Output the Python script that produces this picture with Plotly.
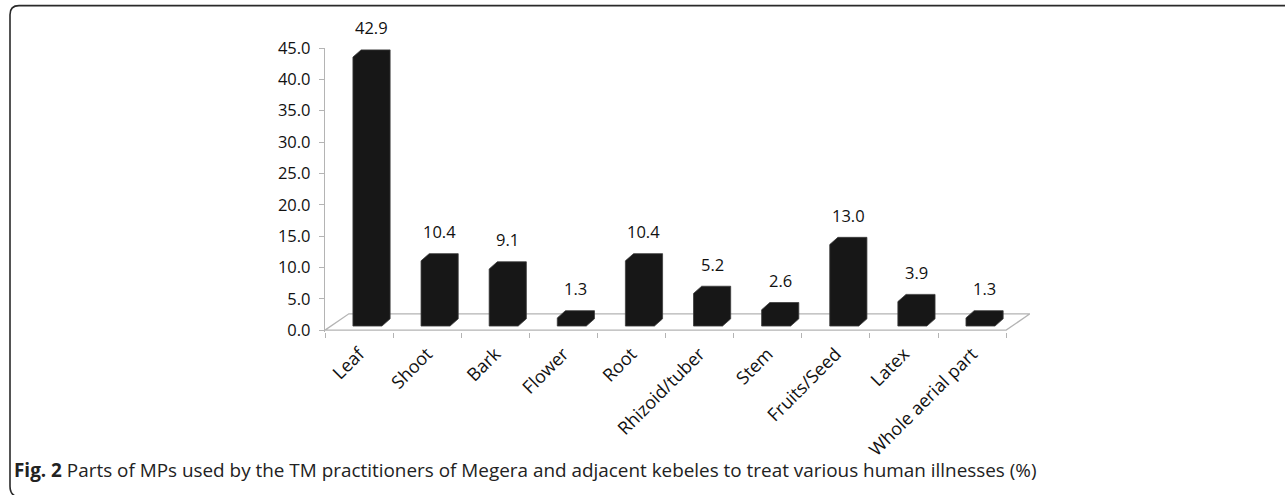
import plotly.graph_objects as go

categories = ["Leaf", "Shoot", "Bark", "Flower", "Root", "Rhizoid/tuber",
              "Stem", "Fruits/Seed", "Latex", "Whole aerial part"]
values = [42.9, 10.4, 9.1, 1.3, 10.4, 5.2, 2.6, 13.0, 3.9, 1.3]
y_ticks = [0, 5, 10, 15, 20, 25, 30, 35, 40, 45]
caption = ("<b>Fig. 2</b> Parts of MPs used by the TM practitioners of Megera and "
           "adjacent kebeles to treat various human illnesses (%)")

W, H = 1285, 495
# plot area geometry
L, R = 325, 1030
X0, X1 = -0.5, 9.85
Y0, Y1 = -0.3, 45.0
T = 48.3
ppu_y = 6.26
B = H - (T + (Y1 - Y0) * ppu_y)

# 3D pseudo-geometry (in data units)
FLOOR_DX, FLOOR_DY = 0.35, 2.6
BAR_L, BAR_W = 0.41 - 0.5, 0.426
DDX, DDY = 0.12, 1.15
BASE = 0.65

FONT = "Open Sans"

fig = go.Figure()

# floor
n = len(categories)
fx = [-0.5, n - 0.5, n - 0.5 + FLOOR_DX, -0.5 + FLOOR_DX, -0.5]
fy = [0, 0, FLOOR_DY, FLOOR_DY, 0]
fig.add_trace(go.Scatter(x=fx, y=fy, mode="lines",
                         line=dict(color="#b4b4b4", width=1.3),
                         hoverinfo="skip", showlegend=False))

# bars as extruded columns
px, py = [], []
for i, v in enumerate(values):
    x0 = i + BAR_L
    x1 = x0 + BAR_W
    pts = [(x0, BASE), (x0, BASE + v), (x0 + DDX, BASE + v + DDY),
           (x1 + DDX, BASE + v + DDY), (x1 + DDX, BASE + DDY), (x1, BASE), (x0, BASE)]
    for a, b in pts:
        px.append(a)
        py.append(b)
    px.append(None)
    py.append(None)
fig.add_trace(go.Scatter(x=px, y=py, mode="lines", fill="toself",
                         fillcolor="#171717", line=dict(color="#3c3c3c", width=0.8),
                         hoverinfo="skip", showlegend=False))

# value labels
for i, v in enumerate(values):
    fig.add_annotation(x=i + BAR_L + (BAR_W + DDX) / 2, y=v + BASE + DDY,
                       text=f"{v:.1f}", showarrow=False, yanchor="middle", yshift=22,
                       font=dict(family=FONT, size=16.5, color="#111"))

# caption
fig.add_annotation(xref="paper", yref="paper",
                   x=(12 - L) / (R - L), y=(H - B - 470) / (H - T - B),
                   xanchor="left", yanchor="middle", showarrow=False, text=caption,
                   font=dict(family=FONT, size=18.9, color="#222"))

# frame
def pxp(x):
    return (x - L) / (R - L)

def pyp(y):
    return (H - B - y) / (H - T - B)

path = (f"M {pxp(1300)},{pyp(6)} L {pxp(19)},{pyp(6)} "
        f"Q {pxp(10)},{pyp(6)} {pxp(10)},{pyp(15)} "
        f"L {pxp(10)},{pyp(486)} Q {pxp(10)},{pyp(494)} {pxp(16)},{pyp(496)}")
fig.add_shape(type="path", path=path, xref="paper", yref="paper",
              line=dict(color="#2a2a2a", width=1.6))

fig.update_layout(
    width=W, height=H,
    margin=dict(l=L, r=W - R, t=T, b=B, pad=0),
    paper_bgcolor="white", plot_bgcolor="white",
    showlegend=False,
    xaxis=dict(range=[X0, X1], tickvals=list(range(n)), ticktext=categories,
               tickangle=-45, ticks="", showline=False, showgrid=False,
               ticklabelstandoff=7,
               zeroline=False, tickfont=dict(family=FONT, size=18, color="#111")),
    xaxis2=dict(range=[X0, X1], overlaying="x", side="bottom",
                tickvals=[k - 0.5 for k in range(n + 1)], ticks="outside", ticklen=5,
                tickcolor="#b4b4b4", showticklabels=False, showline=False,
                showgrid=False, zeroline=False),
    yaxis=dict(range=[Y0, Y1], tickvals=y_ticks, tickformat=".1f",
               ticks="outside", ticklen=5, tickcolor="#b4b4b4",
               showline=True, linecolor="#b4b4b4", linewidth=1.3,
               showgrid=False, zeroline=False, ticklabelstandoff=5,
               tickfont=dict(family=FONT, size=16.5, color="#111")),
)
# dummy trace to activate xaxis2
fig.add_trace(go.Scatter(x=[None], y=[None], xaxis="x2", showlegend=False, hoverinfo="skip"))

fig.write_html("out.html", config={"displayModeBar": False},
               post_script="document.body.style.margin='0';")
